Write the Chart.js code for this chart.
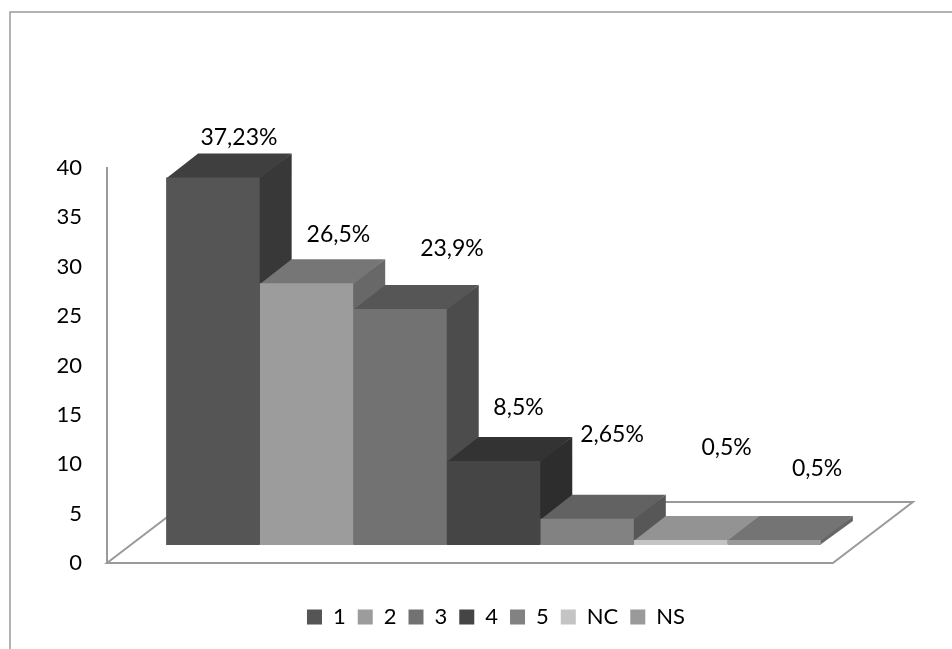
<!DOCTYPE html>
<html>
<head>
<meta charset="utf-8">
<script src="https://cdn.jsdelivr.net/npm/chart.js@4/dist/chart.umd.js"></script>
<style>
  html, body { margin: 0; background: #fff; }
  canvas { display: block; }
</style>
</head>
<body>
<canvas id="chart" width="952" height="649"></canvas>
<script>
const categories = [""];
const seriesNames = ["1", "2", "3", "4", "5", "NC", "NS"];
const seriesValues = [37.23, 26.5, 23.9, 8.5, 2.65, 0.5, 0.5];
const frontColors = ["#555555", "#9c9c9c", "#727272", "#454545", "#828282", "#c4c4c4", "#9a9a9a"];
const topColors = ["#3f3f3f", "#767676", "#565656", "#333333", "#626262", "#939393", "#747474"];
const sideColors = ["#383838", "#686868", "#4c4c4c", "#2d2d2d", "#575757", "#838383", "#666666"];

// the data labels were placed by hand in the original, offsets from the bar top
const labelOffsets = [[26, -39.5], [32, -48.5], [52, -60], [25, -54], [25, -84], [46, -93], [43, -72]];

const FONT = "Lato, 'Open Sans', sans-serif";
const LINE = "#9a9a9a";
const DEPTH_X = 32, DEPTH_Y = -24;

function poly(ctx, pts) {
  ctx.beginPath();
  pts.forEach((p, i) => (i ? ctx.lineTo(p[0], p[1]) : ctx.moveTo(p[0], p[1])));
  ctx.closePath();
}

const frame3d = {
  id: "frame3d",
  afterLayout(chart) {
    // legend sits slightly right of the plot centre
    chart.legend.left += 2.5;
    chart.legend.right += 2.5;
  },
  beforeDraw(chart) {
    const ctx = chart.ctx;
    ctx.save();
    ctx.strokeStyle = LINE;
    ctx.lineWidth = 1.5;
    ctx.beginPath();
    ctx.moveTo(10, 649);
    ctx.lineTo(10, 12);
    ctx.lineTo(952, 12);
    ctx.stroke();
    ctx.restore();
  },
  beforeDatasetsDraw(chart) {
    const ctx = chart.ctx;
    const { left, bottom } = chart.chartArea;
    const last = chart.getDatasetMeta(seriesValues.length - 1).data[0];
    const right = last.x + last.width / 2 + 12;

    ctx.save();
    // floor
    ctx.strokeStyle = LINE;
    ctx.lineWidth = 2;
    poly(ctx, [[left, bottom], [right, bottom], [right + 80, bottom - 61], [left + 80, bottom - 61]]);
    ctx.stroke();

    // sides and tops of the bars, 1px under the front face so no seam shows
    seriesValues.forEach((v, i) => {
      const bar = chart.getDatasetMeta(i).data[0];
      const x0 = bar.x - bar.width / 2, x1 = bar.x + bar.width / 2;
      ctx.fillStyle = sideColors[i];
      poly(ctx, [[x1 - 1, bar.y], [x1 + DEPTH_X, bar.y + DEPTH_Y], [x1 + DEPTH_X, bar.base + DEPTH_Y], [x1 - 1, bar.base]]);
      ctx.fill();
      ctx.fillStyle = topColors[i];
      poly(ctx, [[x0, bar.y + 1], [x0 + DEPTH_X, bar.y + DEPTH_Y], [x1 + DEPTH_X, bar.y + DEPTH_Y], [x1, bar.y + 1]]);
      ctx.fill();
    });
    ctx.restore();
  },
  afterDatasetsDraw(chart) {
    const ctx = chart.ctx;
    ctx.save();
    ctx.fillStyle = "#000";
    ctx.font = "23px " + FONT;
    ctx.textAlign = "center";
    ctx.textBaseline = "middle";
    seriesValues.forEach((v, i) => {
      const bar = chart.getDatasetMeta(i).data[0];
      const txt = String(v).replace(".", ",") + "%";
      ctx.fillText(txt, bar.x + labelOffsets[i][0], bar.y + labelOffsets[i][1]);
    });
    ctx.restore();
  }
};

new Chart(document.getElementById("chart"), {
  type: "bar",
  data: {
    labels: categories,
    datasets: seriesNames.map((name, i) => ({
      label: name,
      data: [seriesValues[i]],
      backgroundColor: frontColors[i],
      yAxisID: "yBars",
      barPercentage: 1,
      categoryPercentage: 0.847
    }))
  },
  options: {
    responsive: false,
    animation: false,
    layout: { padding: { top: 168, left: 42, right: 72, bottom: 11 } },
    scales: {
      x: {
        grid: { display: false },
        border: { display: false },
        ticks: { display: false },
        afterFit(scale) { scale.height = 31; }
      },
      y: {
        min: 0,
        max: 40,
        position: "left",
        grid: { display: false, drawTicks: false },
        border: { display: true, color: LINE, width: 2 },
        ticks: { stepSize: 5, padding: 25, color: "#000", font: { family: FONT, size: 22 } },
        afterFit(scale) { scale.width = 65; }
      },
      // bars stand on the floor, a bit above and to the right of the axis zero
      yBars: { display: false, min: -1.82, max: 38.18 }
    },
    plugins: {
      tooltip: { enabled: false },
      legend: {
        position: "bottom",
        fullSize: false,
        labels: {
          boxWidth: 15,
          boxHeight: 15,
          padding: 12,
          color: "#000",
          font: { family: FONT, size: 22 }
        }
      }
    }
  },
  plugins: [frame3d]
});
</script>
</body>
</html>
